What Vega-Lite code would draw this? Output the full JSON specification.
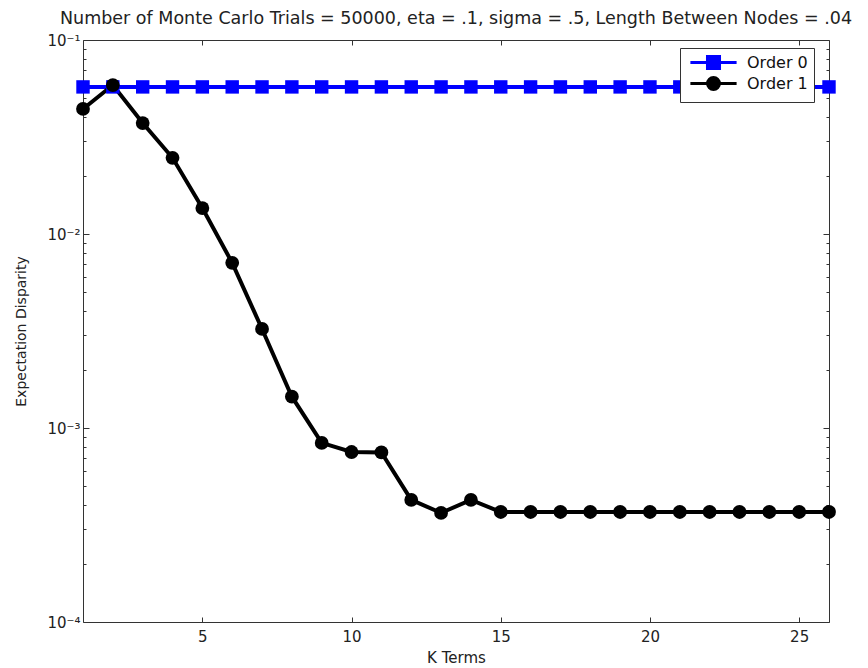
{
  "$schema": "https://vega.github.io/schema/vega-lite/v6.json",
  "width": 746,
  "height": 582,
  "autosize": "none",
  "padding": {"left": 83, "top": 40, "right": 39, "bottom": 46},
  "title": {
    "text": "Number of Monte Carlo Trials = 50000, eta = .1, sigma = .5, Length Between Nodes = .04",
    "fontSize": 17.5,
    "fontWeight": "normal",
    "font": "DejaVu Sans",
    "color": "#222222",
    "baseline": "alphabetic",
    "frame": "group",
    "offset": -8,
    "anchor": "middle"
  },
  "config": {"view": {"stroke": null}, "font": "DejaVu Sans"},
  "data": {
    "values": [
      {"k": 1, "value": 0.0573, "series": "Order 0"},
      {"k": 2, "value": 0.0573, "series": "Order 0"},
      {"k": 3, "value": 0.0573, "series": "Order 0"},
      {"k": 4, "value": 0.0573, "series": "Order 0"},
      {"k": 5, "value": 0.0573, "series": "Order 0"},
      {"k": 6, "value": 0.0573, "series": "Order 0"},
      {"k": 7, "value": 0.0573, "series": "Order 0"},
      {"k": 8, "value": 0.0573, "series": "Order 0"},
      {"k": 9, "value": 0.0573, "series": "Order 0"},
      {"k": 10, "value": 0.0573, "series": "Order 0"},
      {"k": 11, "value": 0.0573, "series": "Order 0"},
      {"k": 12, "value": 0.0573, "series": "Order 0"},
      {"k": 13, "value": 0.0573, "series": "Order 0"},
      {"k": 14, "value": 0.0573, "series": "Order 0"},
      {"k": 15, "value": 0.0573, "series": "Order 0"},
      {"k": 16, "value": 0.0573, "series": "Order 0"},
      {"k": 17, "value": 0.0573, "series": "Order 0"},
      {"k": 18, "value": 0.0573, "series": "Order 0"},
      {"k": 19, "value": 0.0573, "series": "Order 0"},
      {"k": 20, "value": 0.0573, "series": "Order 0"},
      {"k": 21, "value": 0.0573, "series": "Order 0"},
      {"k": 22, "value": 0.0573, "series": "Order 0"},
      {"k": 23, "value": 0.0573, "series": "Order 0"},
      {"k": 24, "value": 0.0573, "series": "Order 0"},
      {"k": 25, "value": 0.0573, "series": "Order 0"},
      {"k": 26, "value": 0.0573, "series": "Order 0"},
      {"k": 1, "value": 0.0441, "series": "Order 1"},
      {"k": 2, "value": 0.0586, "series": "Order 1"},
      {"k": 3, "value": 0.0373, "series": "Order 1"},
      {"k": 4, "value": 0.0247, "series": "Order 1"},
      {"k": 5, "value": 0.0136, "series": "Order 1"},
      {"k": 6, "value": 0.0071, "series": "Order 1"},
      {"k": 7, "value": 0.00324, "series": "Order 1"},
      {"k": 8, "value": 0.00145, "series": "Order 1"},
      {"k": 9, "value": 0.000838, "series": "Order 1"},
      {"k": 10, "value": 0.000752, "series": "Order 1"},
      {"k": 11, "value": 0.000748, "series": "Order 1"},
      {"k": 12, "value": 0.000426, "series": "Order 1"},
      {"k": 13, "value": 0.000365, "series": "Order 1"},
      {"k": 14, "value": 0.000426, "series": "Order 1"},
      {"k": 15, "value": 0.000369, "series": "Order 1"},
      {"k": 16, "value": 0.000369, "series": "Order 1"},
      {"k": 17, "value": 0.000369, "series": "Order 1"},
      {"k": 18, "value": 0.000369, "series": "Order 1"},
      {"k": 19, "value": 0.000369, "series": "Order 1"},
      {"k": 20, "value": 0.000369, "series": "Order 1"},
      {"k": 21, "value": 0.000369, "series": "Order 1"},
      {"k": 22, "value": 0.000369, "series": "Order 1"},
      {"k": 23, "value": 0.000369, "series": "Order 1"},
      {"k": 24, "value": 0.000369, "series": "Order 1"},
      {"k": 25, "value": 0.000369, "series": "Order 1"},
      {"k": 26, "value": 0.000369, "series": "Order 1"}
    ]
  },
  "layer": [
    {
      "mark": {"type": "line", "strokeWidth": 4},
      "encoding": {
        "x": {
          "field": "k",
          "type": "quantitative",
          "scale": {"domain": [1, 26], "nice": false, "zero": false},
          "axis": {
            "orient": "bottom",
            "values": [5, 10, 15, 20, 25],
            "grid": false,
            "tickSize": -5,
            "tickColor": "#333333",
            "domainColor": "#333333",
            "labelPadding": 12,
            "labelFontSize": 15,
            "labelColor": "#222222",
            "title": "K Terms",
            "titleFontSize": 15,
            "titleFontWeight": "normal",
            "titleColor": "#222222",
            "titlePadding": 6
          }
        },
        "y": {
          "field": "value",
          "type": "quantitative",
          "scale": {"type": "log", "domain": [0.0001, 0.1], "nice": false},
          "axis": {
            "orient": "left",
            "values": [0.0001, 0.0002, 0.0003, 0.0004, 0.0005, 0.0006, 0.0007, 0.0008, 0.0009, 0.001, 0.002, 0.003, 0.004, 0.005, 0.006, 0.007, 0.008, 0.009, 0.01, 0.02, 0.03, 0.04, 0.05, 0.06, 0.07, 0.08, 0.09, 0.1],
            "grid": false,
            "labelExpr": "datum.value == 0.1 ? '10⁻¹' : datum.value == 0.01 ? '10⁻²' : datum.value == 0.001 ? '10⁻³' : datum.value == 0.0001 ? '10⁻⁴' : ''",
            "tickSize": {"condition": {"test": "abs(log(datum.value)/LN10 - round(log(datum.value)/LN10)) < 0.000001", "value": -6}, "value": -3},
            "labelPadding": 9,
            "tickColor": "#333333",
            "domainColor": "#333333",
            "labelFontSize": 15,
            "labelColor": "#222222",
            "labelBaseline": "middle",
            "title": "Expectation Disparity",
            "titleFontSize": 14,
            "titleFontWeight": "normal",
            "titleColor": "#222222",
            "titlePadding": 18
          }
        },
        "color": {
          "field": "series",
          "type": "nominal",
          "scale": {"domain": ["Order 0", "Order 1"], "range": ["#0000ff", "#000000"]},
          "legend": {
            "title": null,
            "orient": "none",
            "legendX": 597,
            "legendY": 8,
            "padding": 6,
            "strokeColor": "#333333",
            "fillColor": "#ffffff",
            "labelFontSize": 16,
            "labelColor": "#111111",
            "symbolSize": 196,
            "symbolOffset": 19,
            "labelOffset": 25,
            "rowPadding": -4,
            "encode": {
              "symbols": {
                "update": {
                  "shape": {"signal": "datum.value === 'Order 0' ? 'M-3.3,0H3.3M-0.86,-0.86H0.86V0.86H-0.86Z' : 'M-3.3,0H3.3M0.85,0A0.85,0.85,0,1,1,-0.85,0A0.85,0.85,0,1,1,0.85,0Z'"},
                  "stroke": {"signal": "datum.value === 'Order 0' ? '#0000ff' : '#000000'"},
                  "fill": {"signal": "datum.value === 'Order 0' ? '#0000ff' : '#000000'"},
                  "strokeWidth": {"value": 3},
                  "opacity": {"value": 1},
                  "fillOpacity": {"value": 1},
                  "strokeOpacity": {"value": 1}
                }
              }
            }
          }
        }
      }
    },
    {
      "transform": [{"filter": "datum.series === 'Order 0'"}],
      "mark": {"type": "point", "filled": true, "opacity": 1, "shape": "square", "size": 180, "color": "#0000ff"},
      "encoding": {
        "x": {
          "field": "k",
          "type": "quantitative",
          "axis": {
            "orient": "top",
            "values": [5, 10, 15, 20, 25],
            "grid": false,
            "labels": false,
            "tickSize": -5,
            "tickColor": "#333333",
            "domainColor": "#333333",
            "title": null
          }
        },
        "y": {
          "field": "value",
          "type": "quantitative",
          "axis": {
            "orient": "right",
            "values": [0.0001, 0.0002, 0.0003, 0.0004, 0.0005, 0.0006, 0.0007, 0.0008, 0.0009, 0.001, 0.002, 0.003, 0.004, 0.005, 0.006, 0.007, 0.008, 0.009, 0.01, 0.02, 0.03, 0.04, 0.05, 0.06, 0.07, 0.08, 0.09, 0.1],
            "grid": false,
            "labels": false,
            "tickSize": {"condition": {"test": "abs(log(datum.value)/LN10 - round(log(datum.value)/LN10)) < 0.000001", "value": -6}, "value": -3},
            "tickColor": "#333333",
            "domainColor": "#333333",
            "title": null
          }
        }
      }
    },
    {
      "transform": [{"filter": "datum.series === 'Order 1'"}],
      "mark": {"type": "point", "filled": true, "opacity": 1, "shape": "circle", "size": 190, "color": "#000000"},
      "encoding": {
        "x": {"field": "k", "type": "quantitative", "axis": null},
        "y": {"field": "value", "type": "quantitative", "axis": null}
      }
    }
  ],
  "resolve": {"axis": {"x": "independent", "y": "independent"}}
}
